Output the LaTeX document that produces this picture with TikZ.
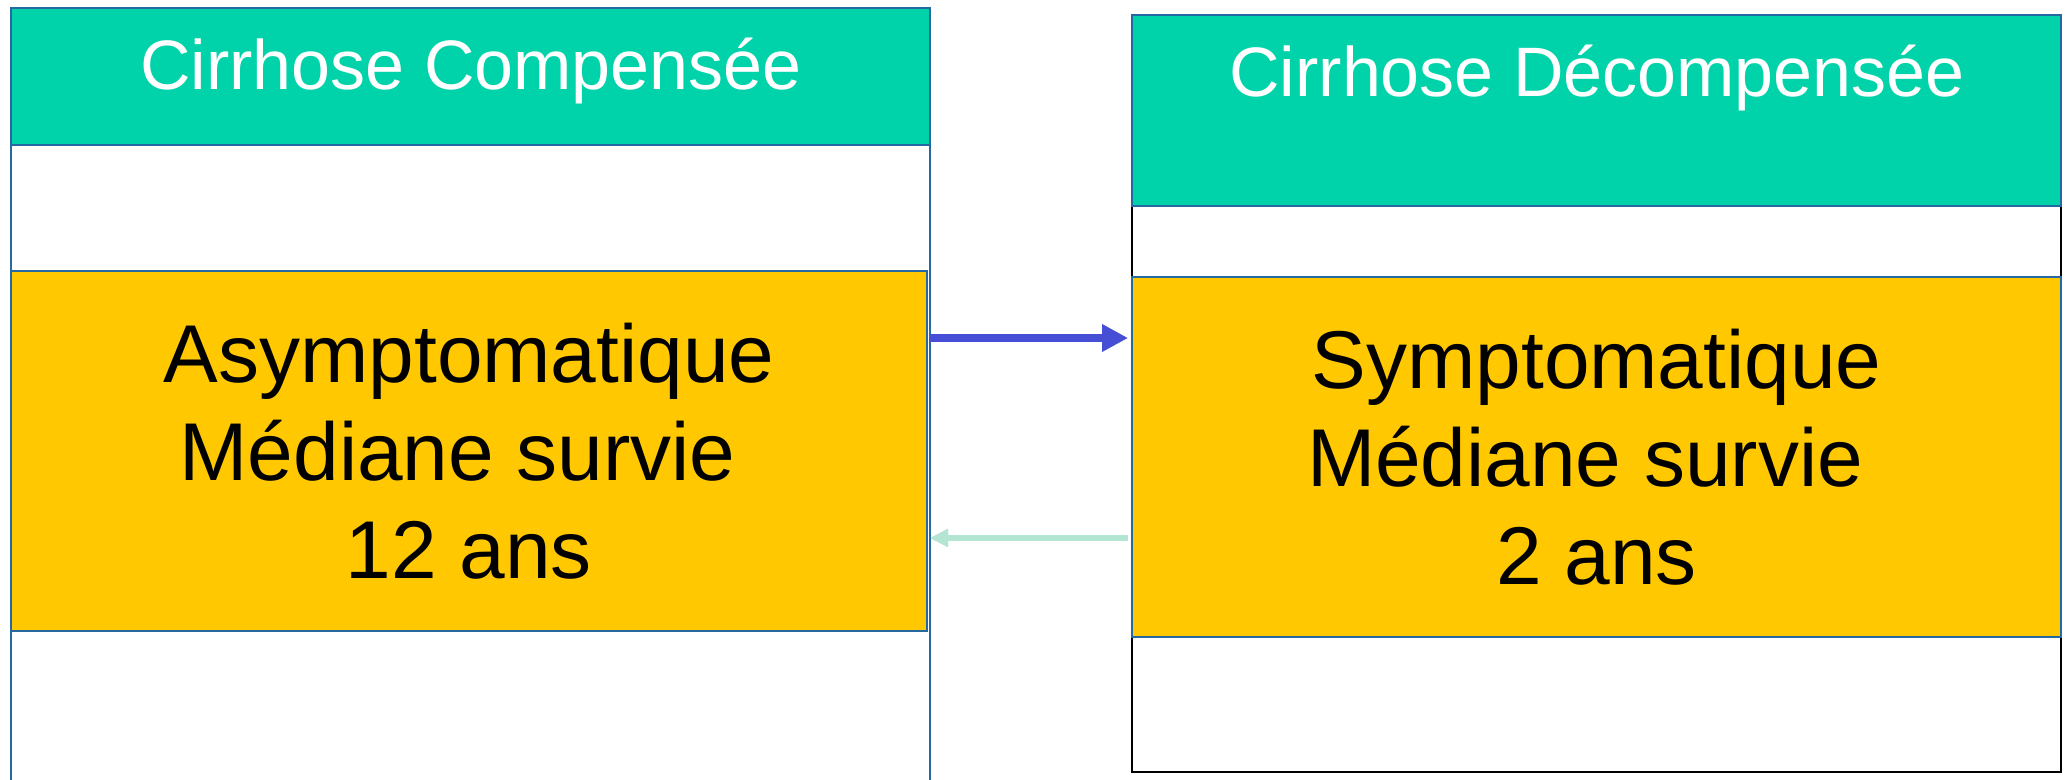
\documentclass[tikz,border=0pt]{standalone}
\usepackage{fontspec}
\setmainfont{Liberation Sans}
\usetikzlibrary{arrows.meta,positioning}
\definecolor{entete}{RGB}{0,211,170}
\definecolor{jaune}{RGB}{255,200,0}
\definecolor{bord}{RGB}{38,104,160}
\definecolor{fleche}{RGB}{71,78,214}
\definecolor{retour}{RGB}{178,230,210}

\begin{document}
\begin{tikzpicture}
[x=0.5pt,y=-0.5pt,
 cadre/.style={draw=bord,line width=1pt,anchor=north west,inner sep=0pt,outer sep=0pt},
 entetebox/.style={cadre,fill=entete},
 titre/.style={anchor=base,text=white,inner sep=0pt,font=\fontsize{35}{42}\selectfont},
 stade/.style={cadre,fill=jaune,line width=1.3pt,align=center,font=\fontsize{41}{49}\selectfont},
 ombre/.style={black,opacity=0.18,shift={(3,5)}}]

\useasboundingbox (0,0) rectangle (2066,780);
\clip (0,0) rectangle (2066,780);

% left column
\node[cadre,minimum width=459.5pt,minimum height=400pt] (comp) at (11,8) {};
\node[entetebox,minimum width=459.5pt,minimum height=68.5pt] (compH) at (11,8) {};
\node[titre] (compT) at (471,90) {Cirrhose Compensée};
\node[stade,minimum width=458pt,minimum height=180pt] (asympt) at (11,271)
  {Asymptomatique\\Médiane survie~\mbox{}\\12 ans};

% right column
\node[cadre,draw=black,minimum width=464.5pt,minimum height=378.5pt] (decomp) at (1132,15) {};
\node[entetebox,minimum width=464.5pt,minimum height=95.5pt] (decompH) at (1132,15) {};
\node[titre] (decompT) at (1597,97) {Cirrhose Décompensée};
\node[stade,minimum width=464.5pt,minimum height=180pt] (sympt) at (1132,277)
  {Symptomatique\\Médiane survie~\mbox{}\\2 ans};

% arrows between the two stages
\coordinate (aller) at (0,338);
\coordinate (retourY) at (0,538);

\draw[ombre,line width=4pt,-{Triangle[length=13pt,width=13pt]},shorten >=2pt]
  (comp.east |- aller) -- (decomp.west |- aller);
\draw[fleche,line width=4pt,-{Triangle[length=13pt,width=13pt]},shorten >=2pt]
  (comp.east |- aller) -- (decomp.west |- aller);

\draw[ombre,line width=3pt,-{Triangle[length=9pt,width=8.5pt]},shorten <=2pt]
  (decomp.west |- retourY) -- (comp.east |- retourY);
\draw[retour,line width=3pt,-{Triangle[length=9pt,width=8.5pt]},shorten <=2pt]
  (decomp.west |- retourY) -- (comp.east |- retourY);
\end{tikzpicture}
\end{document}
